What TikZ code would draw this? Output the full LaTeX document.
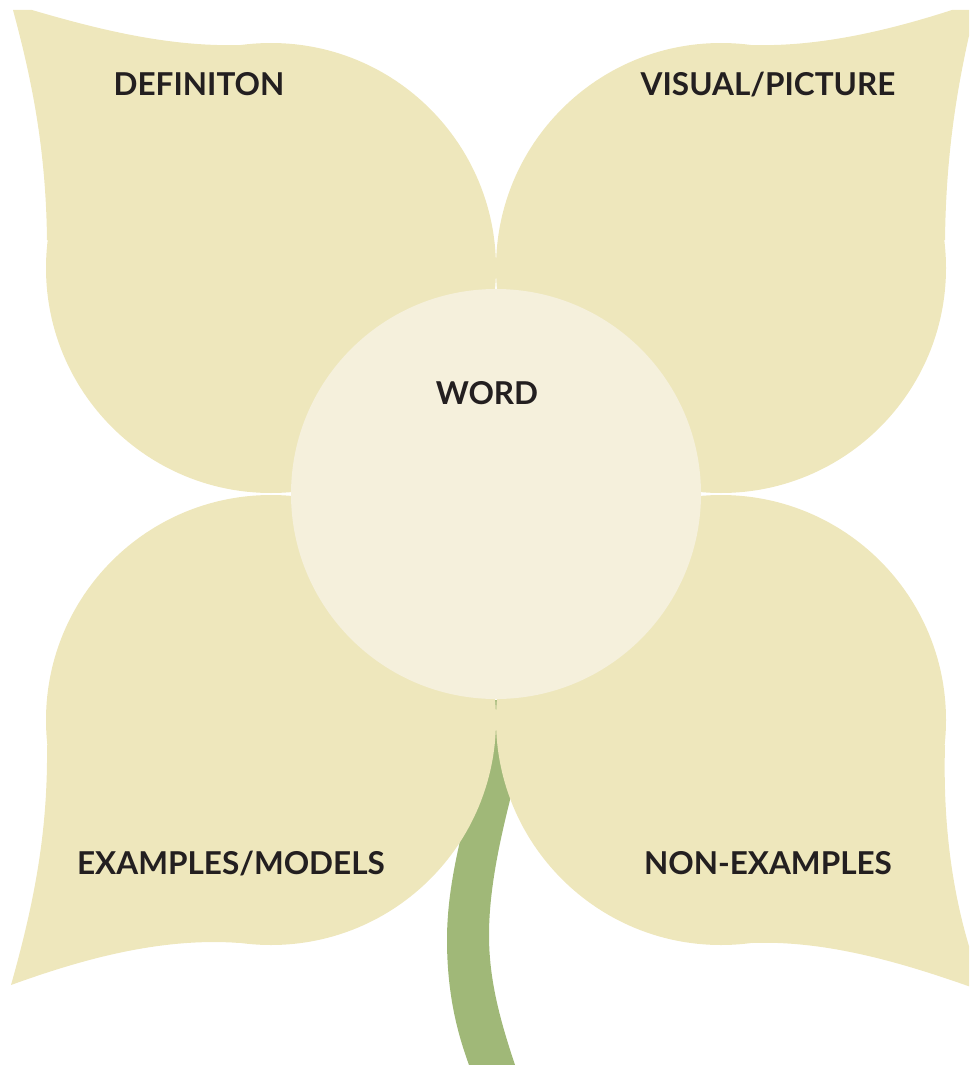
\documentclass[tikz,border=0pt]{standalone}
\usepackage{fontspec}
\setmainfont{Lato}
\definecolor{petal}{HTML}{EEE7BC}
\definecolor{heart}{HTML}{F5F0DC}
\definecolor{stem}{HTML}{A0B878}
\definecolor{ink}{HTML}{231F20}
\tikzset{
  petalfill/.style={fill=petal, draw=none},
  lbl/.style={anchor=base, inner sep=0pt, text=ink, font=\fontsize{31.5}{38}\selectfont\bfseries}
}
\begin{document}
\begin{tikzpicture}[x=1pt,y=-1pt]
\useasboundingbox (0,0) rectangle (969,1065);
\clip (0,0) rectangle (969,1065);
% stem
\fill[stem] (490,700) .. controls (478,790) and (447,860) .. (447,940)
  .. controls (447,1000) and (460,1040) .. (469,1065) -- (515,1065)
  .. controls (500,1020) and (489,980) .. (489,935)
  .. controls (489,880) and (505,820) .. (515,780) -- (505,700) -- cycle;
% top-left petal
\fill[petalfill] (271,268) circle[radius=225pt];
\fill[petalfill] (13,10) -- (32,10) .. controls (100,30) and (170,47) .. (240,45)
  -- (271,268) -- (47,240) .. controls (46,150) and (32,80) .. (13,10) -- cycle;
% top-right petal
\fill[petalfill] (721,268) circle[radius=225pt];
\fill[petalfill] (975,10) -- (952,10) .. controls (890,30) and (820,47) .. (752,45)
  -- (721,268) -- (945,240) .. controls (946,150) and (958,80) .. (975,10) -- cycle;
% bottom-left petal
\fill[petalfill] (271,720) circle[radius=225pt];
\fill[petalfill] (11,985) .. controls (80,960) and (160,937) .. (240,943)
  -- (271,720) -- (47,745) .. controls (48,830) and (35,900) .. (11,985) -- cycle;
% bottom-right petal
\fill[petalfill] (721,720) circle[radius=225pt];
\fill[petalfill] (985,992) .. controls (910,965) and (830,940) .. (752,943)
  -- (721,720) -- (945,745) .. controls (942,850) and (960,930) .. (985,992) -- cycle;
% centre
\fill[heart] (496,494) circle[radius=205pt];
% labels
\node[lbl] (def) at (199,95) {DEFINITON};
\node[lbl] (vis) at (768,95) {VISUAL/PICTURE};
\node[lbl] (word) at (487,404) {WORD};
\node[lbl] (ex) at (231,874) {EXAMPLES/MODELS};
\node[lbl] (nonex) at (768,874) {NON-EXAMPLES};
\end{tikzpicture}
\end{document}
